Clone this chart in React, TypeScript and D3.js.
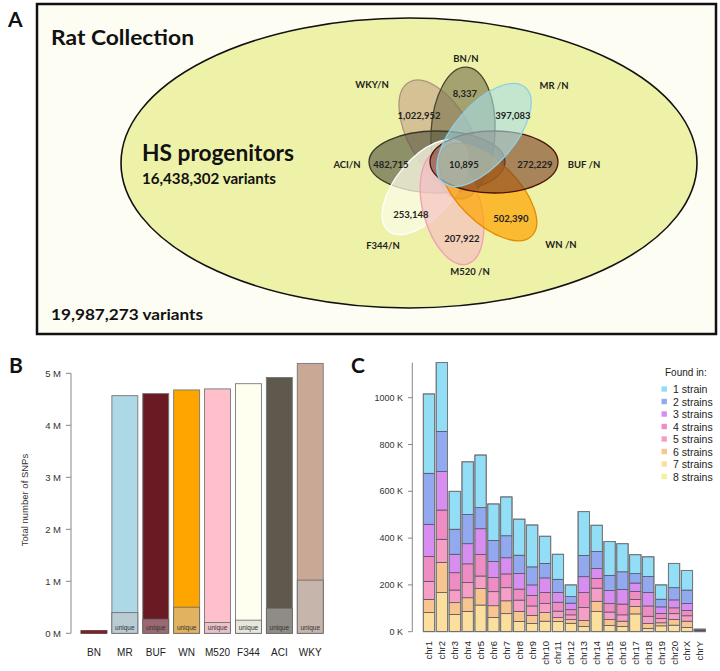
import React from 'react';
import * as d3 from 'd3';

// ---------- Panel A data ----------
const vennStrains = ['WKY', 'BN', 'ACI', 'F344', 'M520', 'WN', 'BUF', 'MR'];
const vennLabels = ['WKY/N', 'BN/N', 'ACI/N', 'F344/N', 'M520 /N', 'WN /N', 'BUF /N', 'MR /N'];
const vennUnique = [1022952, 8337, 482715, 253148, 207922, 502390, 272229, 397083];
const sharedAll = 10895;
const hsTotal = 16438302;
const collectionTotal = 19987273;

// ---------- Panel B data ----------
const strains = ['BN', 'MR', 'BUF', 'WN', 'M520', 'F344', 'ACI', 'WKY'];
const totalSNPs = [0.05, 4.57, 4.61, 4.68, 4.70, 4.80, 4.92, 5.19]; // millions
const uniqueSNPs = [0.008337, 0.397083, 0.272229, 0.50239, 0.207922, 0.253148, 0.482715, 1.022952];
const strainColors = ['#a3161a', '#add8e6', '#6a1a22', '#ffa500', '#ffc0cb', '#fffff0', '#5e594c', '#c9a995'];
const uniqueColors = ['#a3161a', '#b9cbd3', '#9a6870', '#e1b25f', '#e9c2c9', '#e6e6dd', '#8f8c85', '#c5b5ab'];
const bTicks = [0, 1, 2, 3, 4, 5];

// ---------- Panel C data ----------
const chromosomes = ['chr1', 'chr2', 'chr3', 'chr4', 'chr5', 'chr6', 'chr7', 'chr8', 'chr9', 'chr10', 'chr11',
  'chr12', 'chr13', 'chr14', 'chr15', 'chr16', 'chr17', 'chr18', 'chr19', 'chr20', 'chrX', 'chrY'];
// thousands of SNPs
const found1 = [339, 294, 162, 225, 225, 156, 166, 154, 179, 116, 107, 50, 187, 112, 144, 120, 81, 84, 61, 104, 84, 2];
const found2 = [218, 172, 107, 125, 90, 90, 94, 78, 77, 62, 56, 28, 91, 73, 65, 76, 40, 68, 33, 52, 57, 1];
const found3 = [137, 164, 79, 86, 110, 69, 69, 67, 45, 62, 42, 28, 68, 42, 56, 62, 36, 58, 28, 34, 31, 2];
const found4 = [107, 125, 74, 80, 92, 60, 59, 47, 45, 48, 38, 22, 64, 42, 36, 46, 34, 44, 22, 25, 22, 2];
const found5 = [77, 99, 54, 65, 54, 60, 56, 48, 40, 38, 28, 20, 55, 56, 32, 27, 30, 31, 18, 25, 23, 2];
const found6 = [56, 129, 50, 58, 70, 50, 55, 43, 35, 37, 16, 16, 26, 44, 26, 23, 32, 21, 13, 24, 27, 1];
const found7 = [81, 166, 73, 86, 113, 60, 76, 43, 34, 44, 43.5, 35.5, 21.5, 85.5, 25.5, 21.5, 75.5, 13.5, 24.5, 27.5, 17.5, 0.9];
const found8 = [1, 1, 1, 1, 1, 1, 1, 1, 1, 1, 0.5, 0.5, 0.5, 0.5, 0.5, 0.5, 0.5, 0.5, 0.5, 0.5, 0.5, 0.1];
const foundLabels = ['1 strain', '2 strains', '3 strains', '4 strains', '5 strains', '6 strains', '7 strains', '8 strains'];
const foundColors = ['#92def6', '#93a9ef', '#d88ef0', '#f08cc4', '#f79ec6', '#f8c590', '#fcdf9c', '#f3f29c'];
const cTicks = [0, 200, 400, 600, 800, 1000];

const fmt = d3.format(',');

const petalGeom: Record<string, any> = {
  WKY: { cx: 440, cy: 136, rx: 31, ry: 62, rot: -30, fill: '#c9ad8c', op: 0.7, stroke: '#a8967a', lx: 372, ly: 84, nx: 419, ny: 115 },
  BN: { cx: 463, cy: 133, rx: 32, ry: 66, rot: 3, fill: '#7d7650', op: 0.65, stroke: '#4a4530', lx: 466, ly: 58, nx: 465, ny: 93 },
  ACI: { cx: 437, cy: 162, rx: 68, ry: 31, rot: 0, fill: '#5b5a44', op: 0.65, stroke: '#3a3a2a', lx: 347, ly: 164, nx: 391, ny: 164 },
  F344: { cx: 425, cy: 187, rx: 29, ry: 57, rot: 40, fill: '#fbfbe6', op: 0.75, stroke: '#ffffff', lx: 383, ly: 245, nx: 411, ny: 214 },
  M520: { cx: 452, cy: 208, rx: 29, ry: 58, rot: -15, fill: '#f5b8c0', op: 0.6, stroke: '#f0a0b4', lx: 470, ly: 271, nx: 462, ny: 238 },
  WN: { cx: 488, cy: 192, rx: 30, ry: 62, rot: -45, fill: '#ffa200', op: 0.7, stroke: '#e68a00', lx: 561, ly: 244, nx: 511, ny: 218 },
  BUF: { cx: 494, cy: 162, rx: 64, ry: 31, rot: 0, fill: '#7a3a28', op: 0.6, stroke: '#4a1408', lx: 584, ly: 164, nx: 535, ny: 164 },
  MR: { cx: 484, cy: 135, rx: 30, ry: 63, rot: 41, fill: '#a9dde8', op: 0.6, stroke: '#8fd0e4', lx: 554, ly: 85, nx: 513, ny: 115 },
};

const calibri = 'Lato, "Open Sans", sans-serif';
const arial = '"Liberation Sans", Arial, sans-serif';

function PanelA() {
  return (
    <g>
      <text x={8} y={27} fontFamily={calibri} fontWeight={700} fontSize={21} fill="#111">A</text>
      <rect x={37} y={4} width={679} height={330} fill="#fdfdf3" stroke="#111" strokeWidth={2.5} />
      <text x={51} y={45} fontFamily={calibri} fontWeight={700} fontSize={21} textLength={143} lengthAdjust="spacingAndGlyphs" fill="#111">Rat Collection</text>
      <ellipse cx={409} cy={163} rx={288} ry={145} fill="#eef2a8" stroke="#111" strokeWidth={1.6} />
      <text x={142} y={161} fontFamily={calibri} fontWeight={700} fontSize={22} textLength={152} lengthAdjust="spacingAndGlyphs" fill="#111">HS progenitors</text>
      <text x={142} y={184} fontFamily={calibri} fontWeight={700} fontSize={14.5} textLength={134} lengthAdjust="spacingAndGlyphs" fill="#111">{fmt(hsTotal)} variants</text>
      <text x={51} y={320} fontFamily={calibri} fontWeight={700} fontSize={15.5} textLength={152} lengthAdjust="spacingAndGlyphs" fill="#111">{fmt(collectionTotal)} variants</text>
      {vennStrains.map((s) => {
        const g = petalGeom[s];
        return (
          <ellipse key={s} cx={0} cy={0} rx={g.rx} ry={g.ry}
            transform={`translate(${g.cx},${g.cy}) rotate(${g.rot})`}
            fill={g.fill} fillOpacity={g.op} stroke={g.stroke} strokeWidth={1.3} />
        );
      })}
      {vennStrains.map((s, i) => {
        const g = petalGeom[s];
        return (
          <g key={'l' + s} fontFamily={calibri} fontWeight={700} fontSize={9.5} fill="#222" textAnchor="middle">
            <text x={g.lx} y={g.ly} dominantBaseline="central">{vennLabels[i]}</text>
            <text x={g.nx} y={g.ny} dominantBaseline="central">{fmt(vennUnique[i])}</text>
          </g>
        );
      })}
      <text x={464} y={164} dominantBaseline="central" textAnchor="middle" fontFamily={calibri} fontWeight={700} fontSize={9.5} fill="#222">{fmt(sharedAll)}</text>
    </g>
  );
}

function PanelB() {
  const x = d3.scaleBand<string>().domain(strains).range([78.5, 325.7]).paddingInner(0.16).paddingOuter(0.08);
  const y = d3.scaleLinear().domain([0, 5]).range([633.3, 373.3]);
  return (
    <g>
      <text x={9} y={373} fontFamily={calibri} fontWeight={700} fontSize={21} fill="#111">B</text>
      <line x1={71} x2={71} y1={y(0)} y2={y(5)} stroke="#888" />
      {bTicks.map((t) => (
        <g key={t}>
          <line x1={66} x2={71} y1={y(t)} y2={y(t)} stroke="#888" />
          <text x={61} y={y(t)} textAnchor="end" dominantBaseline="central" fontFamily={arial} fontSize={9.5} fill="#333">{t} M</text>
        </g>
      ))}
      <text transform={`translate(24,500) rotate(-90)`} textAnchor="middle" dominantBaseline="central" fontFamily={arial} fontSize={9.5} fill="#333">Total number of SNPs</text>
      {strains.map((s, i) => {
        const x0 = x(s)!;
        const w = x.bandwidth();
        const yt = y(totalSNPs[i]);
        const yu = y(uniqueSNPs[i]);
        const showU = y(0) - yu > 8;
        return (
          <g key={s}>
            <rect x={x0} y={yt} width={w} height={y(0) - yt} fill={strainColors[i]} stroke={i === 0 ? '#333' : '#777'} strokeWidth={0.9} />
            {showU && <rect x={x0} y={yu} width={w} height={y(0) - yu} fill={uniqueColors[i]} stroke="#666" strokeWidth={0.8} />}
            {showU && <text x={x0 + w / 2} y={y(0) - 5.5} textAnchor="middle" dominantBaseline="central" fontFamily={arial} fontSize={6.5} fill="#333">unique</text>}
            <text x={x0 + w / 2} y={652} textAnchor="middle" dominantBaseline="central" fontFamily={arial} fontSize={10} fill="#222">{s}</text>
          </g>
        );
      })}
    </g>
  );
}

function PanelC() {
  const keys = ['f8', 'f7', 'f6', 'f5', 'f4', 'f3', 'f2', 'f1'];
  const seriesArrays: Record<string, number[]> = { f1: found1, f2: found2, f3: found3, f4: found4, f5: found5, f6: found6, f7: found7, f8: found8 };
  const colorByKey: Record<string, string> = {};
  keys.forEach((k) => { colorByKey[k] = foundColors[+k.slice(1) - 1]; });
  const rows = chromosomes.map((c, i) => {
    const r: any = { chr: c };
    keys.forEach((k) => { r[k] = seriesArrays[k][i]; });
    return r;
  });
  const stacked = d3.stack<any>().keys(keys)(rows);
  const totals = rows.map((r) => keys.reduce((a, k) => a + r[k], 0));
  const x = d3.scaleBand<string>().domain(chromosomes).range([422.5, 706.3]).paddingInner(0.12).paddingOuter(0.06);
  const y = d3.scaleLinear().domain([0, 1000]).range([631.7, 397.7]);
  const maxT = d3.max(totals)!;
  return (
    <g>
      <text x={351} y={373} fontFamily={calibri} fontWeight={700} fontSize={21} fill="#111">C</text>
      <line x1={412.3} x2={412.3} y1={y(0)} y2={y(maxT)} stroke="#888" />
      {cTicks.map((t) => (
        <g key={t}>
          <line x1={408} x2={412.3} y1={y(t)} y2={y(t)} stroke="#888" />
          <text x={403} y={y(t)} textAnchor="end" dominantBaseline="central" fontFamily={arial} fontSize={9} fill="#333">{t} K</text>
        </g>
      ))}
      {stacked.map((ser) => (
        <g key={ser.key} fill={colorByKey[ser.key]}>
          {ser.map((d, i) => (
            <rect key={i} x={x(chromosomes[i])!} y={y(d[1])} width={x.bandwidth()} height={Math.max(0, y(d[0]) - y(d[1]))}
              stroke="#4a4a5a" strokeWidth={0.7} />
          ))}
        </g>
      ))}
      {chromosomes.map((c, i) => (
        <rect key={'o' + c} x={x(c)!} y={y(totals[i])} width={x.bandwidth()} height={y(0) - y(totals[i])} fill="none" stroke="#777" strokeWidth={0.9} />
      ))}
      {chromosomes.map((c) => (
        <text key={'t' + c} transform={`translate(${x(c)! + x.bandwidth() / 2},641) rotate(-90)`} textAnchor="end" dominantBaseline="central" fontFamily={arial} fontSize={9.5} fill="#222">{c}</text>
      ))}
      <text x={665} y={376} fontFamily={arial} fontSize={10} fill="#222">Found in:</text>
      {foundLabels.map((l, i) => (
        <g key={l}>
          <rect x={661.5} y={389 + i * 12.5 - 2.7} width={5.4} height={5.4} fill={foundColors[i]} />
          <text x={673} y={389 + i * 12.5} dominantBaseline="central" fontFamily={arial} fontSize={10.5} fill="#222">{l}</text>
        </g>
      ))}
    </g>
  );
}

export default function App() {
  return (
    <svg width={720} height={671} viewBox="0 0 720 671" style={{ position: 'absolute', left: 0, top: 0, background: '#fff' }}>
      <rect x={0} y={0} width={720} height={671} fill="#fff" />
      <PanelA />
      <PanelB />
      <PanelC />
    </svg>
  );
}
